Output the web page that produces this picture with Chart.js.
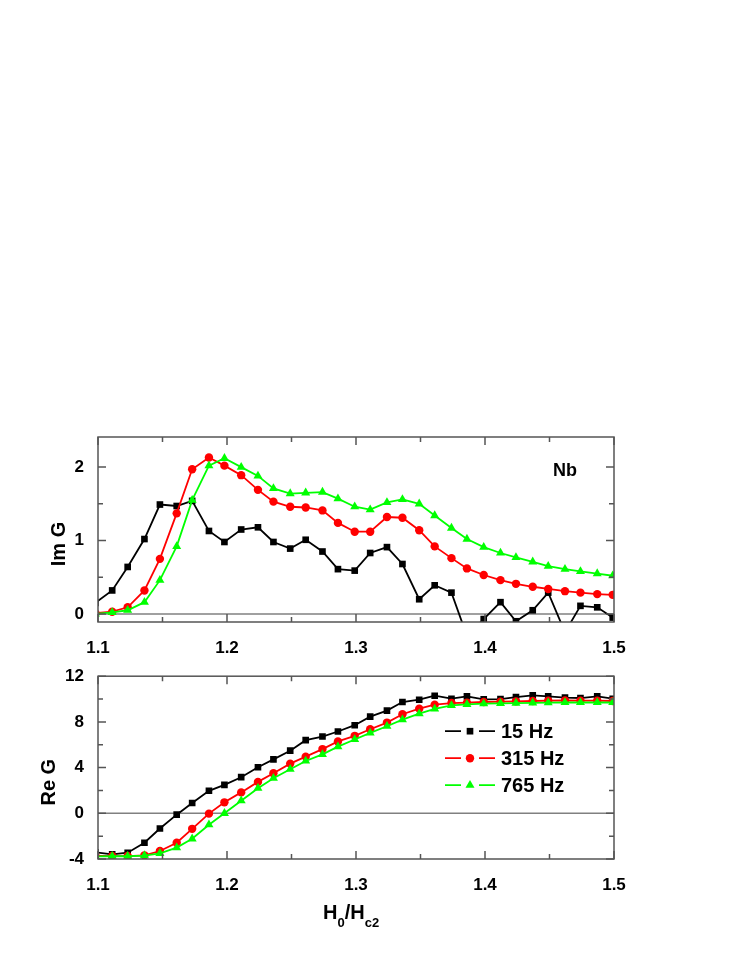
<!DOCTYPE html>
<html>
<head>
<meta charset="utf-8">
<script src="https://cdn.jsdelivr.net/npm/chart.js@4.4.1/dist/chart.umd.min.js"></script>
<style>
  body { margin: 0; background: #fff; }
  .panel { position: absolute; left: 0; width: 747px; }
</style>
</head>
<body>
<div class="panel" style="top:420px;height:240px"><canvas id="imChart"></canvas></div>
<div class="panel" style="top:660px;height:280px"><canvas id="reChart"></canvas></div>
<script>
// field values H0/Hc2
const xValues = [1.098, 1.111, 1.123, 1.136, 1.148, 1.161, 1.173, 1.186, 1.198, 1.211, 1.224,
  1.236, 1.249, 1.261, 1.274, 1.286, 1.299, 1.311, 1.324, 1.336, 1.349, 1.361,
  1.374, 1.386, 1.399, 1.412, 1.424, 1.437, 1.449, 1.462, 1.474, 1.487, 1.499];

const imG15 = [0.15, 0.32, 0.64, 1.02, 1.49, 1.47, 1.54, 1.13, 0.98, 1.15, 1.18,
  0.98, 0.89, 1.01, 0.85, 0.61, 0.59, 0.83, 0.91, 0.68, 0.20, 0.39,
  0.29, -0.30, -0.07, 0.16, -0.10, 0.05, 0.29, -0.25, 0.11, 0.09, -0.05];
const imG315 = [0.01, 0.03, 0.09, 0.32, 0.75, 1.37, 1.97, 2.13, 2.02, 1.89, 1.69,
  1.53, 1.46, 1.45, 1.41, 1.24, 1.12, 1.12, 1.32, 1.31, 1.14, 0.92,
  0.76, 0.62, 0.53, 0.46, 0.41, 0.37, 0.34, 0.31, 0.29, 0.27, 0.26];
const imG765 = [0.00, 0.02, 0.05, 0.16, 0.46, 0.92, 1.55, 2.02, 2.12, 2.00, 1.88,
  1.71, 1.64, 1.65, 1.66, 1.57, 1.46, 1.42, 1.52, 1.56, 1.50, 1.34,
  1.17, 1.02, 0.91, 0.83, 0.77, 0.71, 0.65, 0.61, 0.58, 0.55, 0.52];

const reG15 = [-3.42, -3.6, -3.45, -2.58, -1.33, -0.12, 0.9, 1.97, 2.49, 3.16, 4.03,
  4.72, 5.48, 6.4, 6.72, 7.16, 7.71, 8.46, 8.99, 9.74, 9.94, 10.29,
  10.03, 10.23, 9.97, 10.0, 10.17, 10.32, 10.23, 10.12, 10.09, 10.23, 10.03];
const reG315 = [-3.72, -3.74, -3.74, -3.68, -3.3, -2.58, -1.36, -0.03, 0.96, 1.83, 2.75,
  3.51, 4.35, 4.96, 5.62, 6.29, 6.78, 7.36, 7.94, 8.67, 9.16, 9.51,
  9.65, 9.68, 9.74, 9.77, 9.8, 9.83, 9.86, 9.88, 9.86, 9.86, 9.83];
const reG765 = [-3.78, -3.76, -3.76, -3.7, -3.5, -3.0, -2.23, -1.0, 0.0, 1.1, 2.2,
  3.07, 3.86, 4.58, 5.16, 5.83, 6.46, 7.04, 7.62, 8.2, 8.72, 9.13,
  9.45, 9.54, 9.6, 9.63, 9.65, 9.67, 9.68, 9.7, 9.7, 9.7, 9.7];

const seriesLabels = ['15 Hz', '315 Hz', '765 Hz'];
const seriesColors = ['#000000', '#ff0000', '#00ff00'];
const seriesMarkers = ['rect', 'circle', 'triangle'];
const markerRadius = [4.7, 4.2, 5.2];

const xMajorTicks = [1.1, 1.2, 1.3, 1.4, 1.5];
const imMajorTicks = [0, 1, 2];
const reMajorTicks = [-4, 0, 4, 8, 12];

const FONT = "'Liberation Sans', Arial, Helvetica, sans-serif";
const FRAME = '#555555';

const isIn = (list, v) => list.some(t => Math.abs(t - v) < 1e-6);

function makeDatasets(values) {
  return values.map((vals, i) => ({
    label: seriesLabels[i],
    data: xValues.map((x, j) => ({ x: x, y: vals[j] })),
    borderColor: seriesColors[i],
    backgroundColor: seriesColors[i],
    borderWidth: 1.8,
    pointStyle: seriesMarkers[i],
    pointRadius: markerRadius[i],
    pointBorderWidth: 0,
    pointHoverRadius: markerRadius[i],
    tension: 0,
    order: 3 - i
  }));
}

// frame, inward ticks on all four sides and the zero line
const frameTicks = {
  id: 'frameTicks',
  beforeDatasetsDraw(chart, args, opts) {
    const { ctx, chartArea: a, scales: { y } } = chart;
    const py = y.getPixelForValue(0);
    ctx.save();
    ctx.strokeStyle = '#808080';
    ctx.lineWidth = 1.5;
    ctx.beginPath();
    ctx.moveTo(a.left, py);
    ctx.lineTo(a.right, py);
    ctx.stroke();
    ctx.restore();
  },
  afterDatasetsDraw(chart, args, opts) {
    const { ctx, chartArea: a, scales: { x, y } } = chart;
    ctx.save();
    ctx.strokeStyle = FRAME;
    ctx.lineWidth = 1.5;
    ctx.strokeRect(a.left, a.top, a.right - a.left, a.bottom - a.top);
    ctx.beginPath();
    x.ticks.forEach(t => {
      const px = x.getPixelForValue(t.value);
      const len = isIn(xMajorTicks, t.value) ? 8 : 5;
      ctx.moveTo(px, a.bottom); ctx.lineTo(px, a.bottom - len);
      ctx.moveTo(px, a.top); ctx.lineTo(px, a.top + len);
    });
    y.ticks.forEach(t => {
      const py = y.getPixelForValue(t.value);
      const len = isIn(opts.yMajor, t.value) ? 8 : 5;
      ctx.moveTo(a.left, py); ctx.lineTo(a.left + len, py);
      ctx.moveTo(a.right, py); ctx.lineTo(a.right - len, py);
    });
    ctx.stroke();
    ctx.restore();
  }
};

// rotated y title, plus extra labels
const annotations = {
  id: 'annotations',
  afterDraw(chart, args, opts) {
    const { ctx, chartArea: a } = chart;
    ctx.save();
    ctx.fillStyle = '#000';
    ctx.font = 'bold 20px ' + FONT;
    ctx.textAlign = 'center';
    ctx.textBaseline = 'middle';
    ctx.translate(opts.yTitleX, a.top + opts.yTitleDy);
    ctx.rotate(-Math.PI / 2);
    ctx.fillText(opts.yTitle, 0, 0);
    ctx.restore();

    if (opts.tag) {
      ctx.save();
      ctx.fillStyle = '#000';
      ctx.font = 'bold 18px ' + FONT;
      ctx.textBaseline = 'alphabetic';
      ctx.fillText(opts.tag, a.left + 455, a.top + 39);
      ctx.restore();
    }

    if (opts.legend) {
      ctx.save();
      seriesLabels.forEach((lab, i) => {
        const lx = a.left + 347;
        const ly = a.top + 55 + i * 27;
        ctx.strokeStyle = seriesColors[i];
        ctx.fillStyle = seriesColors[i];
        ctx.lineWidth = 1.8;
        ctx.beginPath();
        ctx.moveTo(lx, ly); ctx.lineTo(lx + 16, ly);
        ctx.moveTo(lx + 34, ly); ctx.lineTo(lx + 50, ly);
        ctx.stroke();
        Chart.helpers.drawPoint(ctx, { pointStyle: seriesMarkers[i], radius: markerRadius[i], borderWidth: 0, rotation: 0 }, lx + 25, ly);
        ctx.fillStyle = '#000';
        ctx.font = 'bold 20px ' + FONT;
        ctx.textBaseline = 'middle';
        ctx.fillText(lab, lx + 56, ly + 1);
      });
      ctx.restore();
    }

    if (opts.xTitle) {
      ctx.save();
      ctx.fillStyle = '#000';
      ctx.textBaseline = 'alphabetic';
      let cx = 323;
      const base = a.bottom + 60;
      const parts = [['H', 20, 0], ['0', 13, 8], ['/H', 20, 0], ['c2', 13, 8]];
      parts.forEach(([s, size, dy]) => {
        ctx.font = 'bold ' + size + 'px ' + FONT;
        ctx.fillText(s, cx, base + dy);
        cx += ctx.measureText(s).width;
      });
      ctx.restore();
    }
  }
};

function makeChart(id, datasets, yMin, yMax, yStep, yMajor, xAxisHeight, padTop, ann) {
  return new Chart(document.getElementById(id), {
    type: 'line',
    data: { datasets: datasets },
    plugins: [frameTicks, annotations],
    options: {
      responsive: true,
      maintainAspectRatio: false,
      animation: false,
      layout: { padding: { top: padTop, right: 133, bottom: 0, left: 0 } },
      plugins: {
        legend: { display: false },
        tooltip: { enabled: false },
        frameTicks: { yMajor: yMajor },
        annotations: ann
      },
      scales: {
        x: {
          type: 'linear',
          min: 1.1,
          max: 1.5,
          grid: { display: false },
          border: { display: false },
          afterFit(scale) { scale.height = xAxisHeight; },
          ticks: {
            stepSize: 0.05,
            autoSkip: false,
            maxRotation: 0,
            padding: 8,
            color: '#000',
            font: { family: FONT, size: 17, weight: 'bold' },
            callback: v => isIn(xMajorTicks, v) ? v.toFixed(1) : ''
          }
        },
        y: {
          min: yMin,
          max: yMax,
          grid: { display: false },
          border: { display: false },
          afterFit(scale) { scale.width = 98; },
          ticks: {
            stepSize: yStep,
            includeBounds: false,
            autoSkip: false,
            padding: 6,
            color: '#000',
            font: { family: FONT, size: 17, weight: 'bold' },
            callback: v => isIn(yMajor, v) ? String(Math.round(v)) : ''
          }
        }
      }
    }
  });
}

makeChart('imChart', makeDatasets([imG15, imG315, imG765]), -0.11, 2.41, 0.5, imMajorTicks, 38, 17,
  { yTitle: 'Im G', yTitleX: 59, yTitleDy: 107, tag: 'Nb' });
makeChart('reChart', makeDatasets([reG15, reG315, reG765]), -4, 12, 2, reMajorTicks, 81, 16,
  { yTitle: 'Re G', yTitleX: 49, yTitleDy: 106, legend: true, xTitle: true });
</script>
</body>
</html>
